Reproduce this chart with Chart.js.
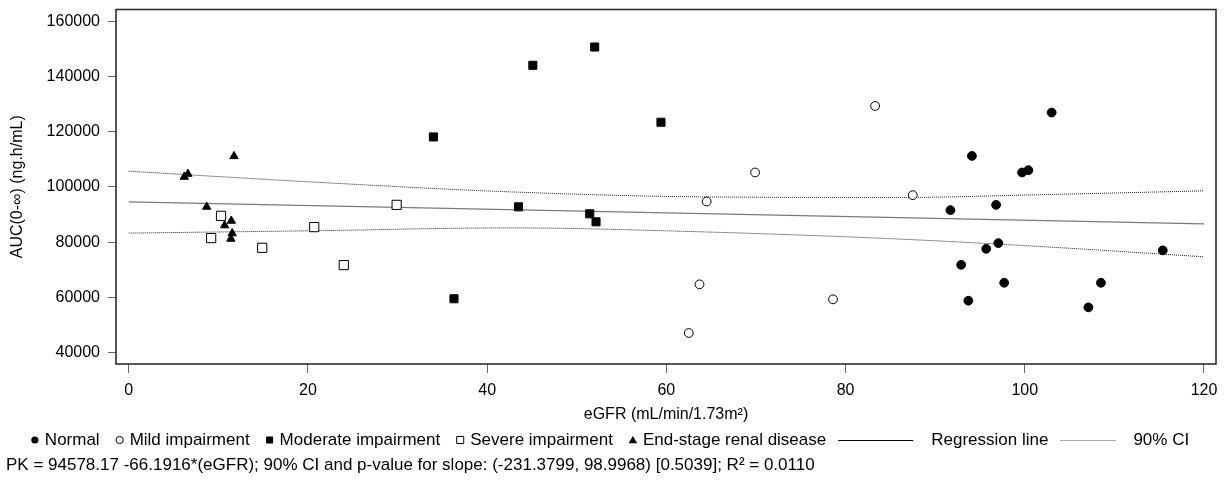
<!DOCTYPE html>
<html>
<head>
<meta charset="utf-8">
<script src="https://cdn.jsdelivr.net/npm/chart.js@4/dist/chart.umd.min.js"></script>
<style>
html,body{margin:0;padding:0;background:#fff;}
#wrap{width:1228px;height:494px;position:relative;}
</style>
</head>
<body>
<div id="wrap"><canvas id="c" width="1228" height="494"></canvas></div>
<script>
// ---- data ----
const normalX = [103.0, 94.1, 99.7, 100.4, 91.7, 96.8, 97.05, 95.7, 92.9, 97.7, 93.7, 108.5, 107.1, 115.4];
const normalY = [126950, 111250, 105250, 106080, 91610, 93530, 79680, 77620, 71830, 65320, 58810, 65320, 56420, 77040];

const mildX = [69.9, 64.5, 63.7, 62.5, 83.3, 87.5, 78.6];
const mildY = [105250, 94760, 64740, 47130, 129340, 97040, 59310];

const moderateX = [52.0, 45.1, 59.4, 34.0, 43.5, 51.45, 52.15, 36.3];
const moderateY = [150680, 144060, 123440, 118130, 92810, 90280, 87380, 59530];

const severeX = [10.3, 9.2, 14.9, 20.7, 24.0, 29.9];
const severeY = [89550, 81490, 77980, 85470, 71720, 93530];

const esrdX = [6.2, 6.6, 11.75, 8.7, 10.7, 11.45, 11.55, 11.4];
const esrdY = [103660, 104740, 111140, 92810, 86080, 87740, 83190, 81230];

const regX = [0, 120];
const regY = [94578, 86635];

const ciX = [0, 20.2, 42.6, 63.8, 86.1, 102.8, 120];
const ciUpper = [105720, 101850, 98230, 96425, 96210, 97290, 98600];
const ciLower = [83300, 84130, 85180, 83770, 81125, 78230, 74720];

const xTicks = [0, 20, 40, 60, 80, 100, 120];
const yTicks = [40000, 60000, 80000, 100000, 120000, 140000, 160000];

const legendLabels = ['Normal', 'Mild impairment', 'Moderate impairment', 'Severe impairment', 'End-stage renal disease', 'Regression line', '90% CI'];
const footnoteText = 'PK = 94578.17 -66.1916*(eGFR); 90% CI and p-value for slope: (-231.3799, 98.9968) [0.5039]; R\u00B2 = 0.0110';
const xTitle = 'eGFR (mL/min/1.73m\u00B2)';
const yTitle = 'AUC(0-\u221E) (ng.h/mL)';

// ---- helpers ----
const pts = (xs, ys) => xs.map((x, i) => ({x: x, y: ys[i]}));
const FONT = '"Liberation Sans", Arial, Helvetica, sans-serif';

const framePlugin = {
  id: 'frame',
  afterDatasetsDraw(chart) {
    const {ctx, chartArea: a} = chart;
    ctx.save();
    ctx.strokeStyle = '#222';
    ctx.lineWidth = 1.5;
    ctx.strokeRect(a.left, a.top, a.right - a.left, a.bottom - a.top);
    ctx.restore();
  }
};

const legendPlugin = {
  id: 'customLegend',
  afterDraw(chart) {
    const ctx = chart.ctx;
    ctx.save();
    ctx.font = '17px ' + FONT;
    ctx.textBaseline = 'middle';
    ctx.fillStyle = '#000';
    const y = 440;
    const items = [
      {kind: 'circle', fill: true},
      {kind: 'circle', fill: false},
      {kind: 'square', fill: true},
      {kind: 'square', fill: false},
      {kind: 'triangle', fill: true},
      {kind: 'line', len: 75, dash: []},
      {kind: 'line', len: 55, dash: [1, 1]}
    ];
    let total = 0;
    items.forEach((it, i) => {
      const tw = ctx.measureText(legendLabels[i]).width;
      if (it.kind === 'line') total += 12 + it.len + 18 + tw;
      else total += (i === 0 ? 4 : 20) + 10 + tw;
    });
    let x = 610 - total / 2;
    items.forEach((it, i) => {
      const label = legendLabels[i];
      const tw = ctx.measureText(label).width;
      if (it.kind === 'line') {
        x += 12;
        ctx.beginPath();
        ctx.setLineDash(it.dash);
        ctx.strokeStyle = it.dash.length ? '#555' : '#000';
        ctx.lineWidth = 1;
        ctx.moveTo(x, y + 0.5);
        ctx.lineTo(x + it.len, y + 0.5);
        ctx.stroke();
        ctx.setLineDash([]);
        x += it.len + 18;
        ctx.fillStyle = '#000';
        ctx.fillText(label, x, y);
        x += tw;
      } else {
        x += (i === 0 ? 4 : 20);
        ctx.beginPath();
        ctx.strokeStyle = '#000';
        ctx.lineWidth = 1;
        if (it.kind === 'circle') {
          ctx.arc(x, y, 3.6, 0, Math.PI * 2);
        } else if (it.kind === 'square') {
          ctx.rect(x - 3.5, y - 3.5, 7, 7);
        } else {
          ctx.moveTo(x, y - 4);
          ctx.lineTo(x + 4.3, y + 3.2);
          ctx.lineTo(x - 4.3, y + 3.2);
          ctx.closePath();
        }
        if (it.fill) { ctx.fillStyle = '#000'; ctx.fill(); }
        else { ctx.fillStyle = '#fff'; ctx.fill(); ctx.stroke(); }
        x += 10;
        ctx.fillStyle = '#000';
        ctx.fillText(label, x, y);
        x += tw;
      }
    });
    ctx.textAlign = 'left';
    ctx.fillStyle = '#000';
    ctx.fillText(footnoteText, 6, 465);
    ctx.restore();
  }
};

const scatterDs = (label, xs, ys, style, radius, filled) => ({
  type: 'scatter',
  label: label,
  data: pts(xs, ys),
  pointStyle: style,
  pointRadius: radius,
  pointHoverRadius: radius,
  pointBackgroundColor: filled ? '#000' : '#fff',
  pointBorderColor: '#000',
  pointBorderWidth: 1,
  showLine: false,
  order: 1
});

new Chart(document.getElementById('c'), {
  type: 'scatter',
  data: {
    datasets: [
      {
        type: 'line', label: 'Regression line', data: pts(regX, regY),
        borderColor: '#7a7a7a', borderWidth: 1.3, pointRadius: 0, fill: false, order: 3
      },
      {
        type: 'line', label: '90% CI upper', data: pts(ciX, ciUpper),
        borderColor: '#222', borderWidth: 1, borderDash: [1, 1], pointRadius: 0, fill: false,
        cubicInterpolationMode: 'monotone', order: 3
      },
      {
        type: 'line', label: '90% CI lower', data: pts(ciX, ciLower),
        borderColor: '#222', borderWidth: 1, borderDash: [1, 1], pointRadius: 0, fill: false,
        cubicInterpolationMode: 'monotone', order: 3
      },
      scatterDs('Normal', normalX, normalY, 'circle', 4.4, true),
      scatterDs('Mild impairment', mildX, mildY, 'circle', 4.4, false),
      scatterDs('Moderate impairment', moderateX, moderateY, 'rect', 5.7, true),
      scatterDs('Severe impairment', severeX, severeY, 'rect', 6.5, false),
      scatterDs('End-stage renal disease', esrdX, esrdY, 'triangle', 4.8, true)
    ]
  },
  options: {
    responsive: false,
    animation: false,
    devicePixelRatio: 1,
    layout: { padding: { left: 0, top: 9.5, right: 12, bottom: 69.4 } },
    plugins: { legend: { display: false }, tooltip: { enabled: false } },
    scales: {
      x: {
        type: 'linear',
        min: -1.42, max: 121.34,
        afterBuildTicks: (s) => { s.ticks = xTicks.map(v => ({value: v})); },
        afterFit: (s) => { s.height = 60.6; s.paddingLeft = 0; s.paddingRight = 0; },
        grid: { display: true, drawOnChartArea: false, drawTicks: true, tickLength: 9, color: '#666', lineWidth: 1 },
        border: { display: false },
        ticks: { font: { size: 16, family: FONT }, color: '#000', padding: 8, maxRotation: 0 },
        title: { display: true, text: xTitle, font: { size: 16, family: FONT }, color: '#000', padding: { top: 0, bottom: 0 } }
      },
      y: {
        type: 'linear',
        min: 35900, max: 164270,
        afterBuildTicks: (s) => { s.ticks = yTicks.map(v => ({value: v})); },
        afterFit: (s) => { s.width = 116; s.paddingTop = 0; s.paddingBottom = 0; },
        grid: { display: true, drawOnChartArea: false, drawTicks: true, tickLength: 8, color: '#666', lineWidth: 1 },
        border: { display: false },
        ticks: { font: { size: 16, family: FONT }, color: '#000', padding: 8, callback: (v) => String(v) },
        title: { display: true, text: yTitle, font: { size: 16, family: FONT }, color: '#000', padding: { top: 8, bottom: 0 } }
      }
    }
  },
  plugins: [framePlugin, legendPlugin]
});
</script>
</body>
</html>
